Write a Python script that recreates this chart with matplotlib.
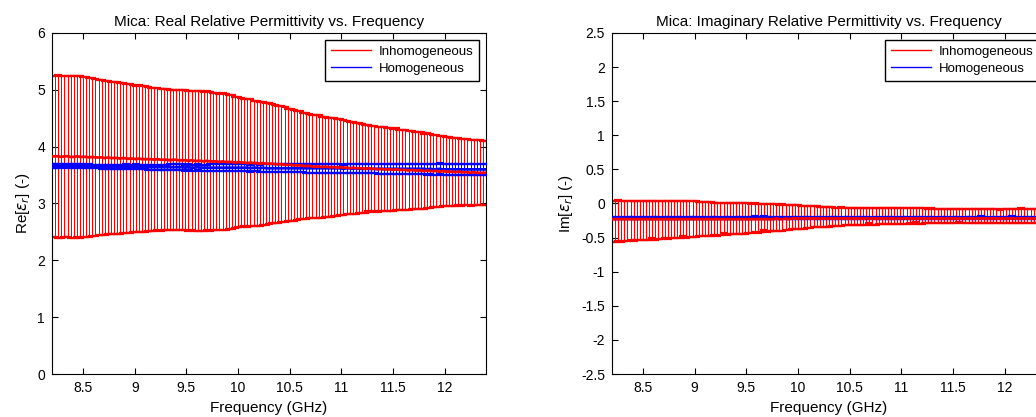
import numpy as np
import matplotlib
matplotlib.use("Agg")
import matplotlib.pyplot as plt
from matplotlib.lines import Line2D
from matplotlib.ticker import FuncFormatter

plt.rcParams['font.family'] = ['Liberation Sans', 'DejaVu Sans']
plt.rcParams['axes.unicode_minus'] = False

# frequency sweep, 8.2 - 12.4 GHz (141 points)
freq = np.round(np.arange(141) * 0.03 + 8.2, 3)

# --- real part ---
re_inhom_mean = [
    3.83, 3.83, 3.83, 3.82, 3.83, 3.83, 3.82, 3.82, 3.83, 3.82,
    3.82, 3.82, 3.81, 3.82, 3.81, 3.81, 3.81, 3.80, 3.81, 3.80,
    3.80, 3.80, 3.79, 3.80, 3.79, 3.79, 3.79, 3.78, 3.79, 3.78,
    3.78, 3.78, 3.78, 3.77, 3.78, 3.77, 3.77, 3.77, 3.76, 3.77,
    3.77, 3.76, 3.76, 3.76, 3.75, 3.76, 3.75, 3.75, 3.75, 3.74,
    3.75, 3.74, 3.74, 3.74, 3.73, 3.74, 3.73, 3.73, 3.73, 3.72,
    3.73, 3.72, 3.72, 3.71, 3.72, 3.71, 3.71, 3.70, 3.71, 3.70,
    3.70, 3.70, 3.69, 3.69, 3.69, 3.68, 3.68, 3.68, 3.67, 3.67,
    3.67, 3.66, 3.66, 3.66, 3.65, 3.65, 3.65, 3.64, 3.65, 3.64,
    3.64, 3.64, 3.63, 3.64, 3.63, 3.63, 3.62, 3.63, 3.62, 3.62,
    3.62, 3.61, 3.62, 3.61, 3.61, 3.60, 3.61, 3.60, 3.60, 3.60,
    3.59, 3.60, 3.59, 3.59, 3.59, 3.58, 3.59, 3.58, 3.58, 3.58,
    3.57, 3.58, 3.57, 3.57, 3.57, 3.56, 3.57, 3.56, 3.56, 3.56,
    3.55, 3.56, 3.55, 3.55, 3.55, 3.54, 3.55, 3.54, 3.54, 3.54,
    3.54]
re_inhom_err = [
    1.42, 1.42, 1.43, 1.42, 1.42, 1.42, 1.43, 1.42, 1.42, 1.42,
    1.41, 1.41, 1.40, 1.39, 1.38, 1.37, 1.36, 1.36, 1.35, 1.34,
    1.34, 1.33, 1.33, 1.32, 1.31, 1.31, 1.30, 1.29, 1.29, 1.28,
    1.28, 1.27, 1.26, 1.26, 1.25, 1.25, 1.24, 1.24, 1.23, 1.23,
    1.23, 1.23, 1.23, 1.23, 1.23, 1.22, 1.23, 1.23, 1.23, 1.22,
    1.22, 1.22, 1.21, 1.21, 1.20, 1.20, 1.19, 1.18, 1.17, 1.15,
    1.14, 1.13, 1.12, 1.12, 1.11, 1.10, 1.10, 1.09, 1.08, 1.07,
    1.06, 1.05, 1.04, 1.03, 1.02, 1.01, 0.99, 0.98, 0.97, 0.96,
    0.95, 0.94, 0.93, 0.92, 0.91, 0.90, 0.90, 0.89, 0.88, 0.87,
    0.87, 0.86, 0.85, 0.84, 0.83, 0.82, 0.81, 0.81, 0.80, 0.79,
    0.78, 0.77, 0.76, 0.76, 0.75, 0.75, 0.74, 0.74, 0.73, 0.73,
    0.72, 0.72, 0.71, 0.70, 0.70, 0.69, 0.69, 0.68, 0.67, 0.67,
    0.66, 0.66, 0.65, 0.64, 0.64, 0.63, 0.62, 0.61, 0.61, 0.60,
    0.60, 0.59, 0.59, 0.58, 0.58, 0.58, 0.57, 0.57, 0.57, 0.56,
    0.56]
re_hom_mean = [
    3.66, 3.66, 3.66, 3.66, 3.67, 3.66, 3.66, 3.66, 3.66, 3.66,
    3.66, 3.65, 3.66, 3.65, 3.65, 3.65, 3.65, 3.65, 3.65, 3.65,
    3.65, 3.65, 3.65, 3.64, 3.65, 3.64, 3.64, 3.65, 3.64, 3.64,
    3.64, 3.64, 3.64, 3.64, 3.64, 3.64, 3.64, 3.64, 3.64, 3.64,
    3.64, 3.64, 3.64, 3.63, 3.64, 3.63, 3.63, 3.64, 3.63, 3.63,
    3.63, 3.63, 3.63, 3.63, 3.63, 3.63, 3.63, 3.63, 3.63, 3.63,
    3.63, 3.63, 3.63, 3.63, 3.62, 3.63, 3.63, 3.62, 3.63, 3.62,
    3.62, 3.62, 3.62, 3.62, 3.62, 3.62, 3.62, 3.62, 3.62, 3.62,
    3.62, 3.62, 3.62, 3.62, 3.62, 3.62, 3.62, 3.62, 3.62, 3.62,
    3.62, 3.62, 3.62, 3.62, 3.61, 3.62, 3.62, 3.61, 3.62, 3.61,
    3.61, 3.61, 3.61, 3.61, 3.61, 3.61, 3.61, 3.61, 3.61, 3.61,
    3.61, 3.61, 3.61, 3.61, 3.61, 3.61, 3.61, 3.61, 3.61, 3.61,
    3.61, 3.60, 3.61, 3.60, 3.60, 3.61, 3.60, 3.60, 3.60, 3.60,
    3.60, 3.60, 3.60, 3.60, 3.60, 3.60, 3.60, 3.60, 3.60, 3.60,
    3.60]
re_hom_err = [
    0.03, 0.03, 0.03, 0.03, 0.03, 0.03, 0.03, 0.03, 0.03, 0.03,
    0.03, 0.03, 0.03, 0.03, 0.03, 0.03, 0.035, 0.035, 0.035, 0.035,
    0.035, 0.035, 0.035, 0.04, 0.04, 0.04, 0.04, 0.04, 0.04, 0.04,
    0.04, 0.045, 0.045, 0.045, 0.045, 0.045, 0.045, 0.045, 0.05, 0.05,
    0.05, 0.05, 0.05, 0.05, 0.05, 0.055, 0.055, 0.055, 0.055, 0.055,
    0.055, 0.06, 0.06, 0.06, 0.06, 0.06, 0.06, 0.06, 0.065, 0.065,
    0.065, 0.065, 0.065, 0.065, 0.065, 0.065, 0.065, 0.065, 0.07, 0.07,
    0.07, 0.07, 0.07, 0.07, 0.07, 0.07, 0.07, 0.07, 0.07, 0.07,
    0.07, 0.07, 0.075, 0.075, 0.075, 0.075, 0.075, 0.075, 0.075, 0.075,
    0.075, 0.075, 0.075, 0.075, 0.075, 0.08, 0.08, 0.08, 0.08, 0.08,
    0.08, 0.08, 0.08, 0.08, 0.08, 0.085, 0.085, 0.085, 0.085, 0.085,
    0.085, 0.085, 0.085, 0.09, 0.09, 0.09, 0.09, 0.09, 0.09, 0.09,
    0.09, 0.09, 0.09, 0.09, 0.09, 0.095, 0.095, 0.095, 0.095, 0.095,
    0.095, 0.095, 0.095, 0.095, 0.095, 0.095, 0.095, 0.095, 0.095, 0.095,
    0.095]

# --- imaginary part ---
im_inhom_mean = [
    -0.23, -0.23, -0.23, -0.23, -0.23, -0.23, -0.23, -0.23, -0.23, -0.23,
    -0.23, -0.23, -0.23, -0.23, -0.23, -0.23, -0.23, -0.23, -0.23, -0.23,
    -0.23, -0.23, -0.23, -0.23, -0.23, -0.23, -0.23, -0.23, -0.23, -0.23,
    -0.23, -0.23, -0.23, -0.23, -0.23, -0.23, -0.23, -0.23, -0.23, -0.23,
    -0.23, -0.23, -0.23, -0.23, -0.23, -0.23, -0.23, -0.23, -0.23, -0.23,
    -0.23, -0.23, -0.23, -0.22, -0.23, -0.23, -0.22, -0.23, -0.22, -0.22,
    -0.22, -0.22, -0.22, -0.22, -0.22, -0.22, -0.22, -0.22, -0.22, -0.22,
    -0.22, -0.22, -0.22, -0.22, -0.22, -0.22, -0.22, -0.22, -0.22, -0.22,
    -0.22, -0.22, -0.22, -0.22, -0.22, -0.22, -0.22, -0.22, -0.22, -0.22,
    -0.22, -0.22, -0.22, -0.22, -0.22, -0.22, -0.22, -0.22, -0.22, -0.22,
    -0.22, -0.22, -0.22, -0.22, -0.22, -0.22, -0.22, -0.22, -0.22, -0.22,
    -0.22, -0.22, -0.22, -0.22, -0.22, -0.22, -0.22, -0.22, -0.22, -0.22,
    -0.22, -0.22, -0.22, -0.22, -0.22, -0.22, -0.22, -0.22, -0.22, -0.22,
    -0.22, -0.22, -0.22, -0.22, -0.22, -0.22, -0.22, -0.22, -0.22, -0.22,
    -0.22]
im_inhom_upper = [
    0.04, 0.04, 0.05, 0.04, 0.04, 0.04, 0.04, 0.04, 0.04, 0.04,
    0.04, 0.04, 0.04, 0.04, 0.03, 0.04, 0.04, 0.03, 0.03, 0.03,
    0.03, 0.03, 0.03, 0.03, 0.03, 0.03, 0.03, 0.03, 0.02, 0.02,
    0.02, 0.02, 0.02, 0.01, 0.01, 0.01, 0.01, 0.01, 0.01, 0.01,
    0.00, 0.00, 0.00, 0.00, 0.00, -0.01, 0.00, -0.01, -0.01, -0.01,
    -0.01, -0.01, -0.01, -0.01, -0.02, -0.01, -0.02, -0.02, -0.02, -0.02,
    -0.02, -0.03, -0.03, -0.03, -0.04, -0.04, -0.04, -0.05, -0.05, -0.05,
    -0.05, -0.05, -0.06, -0.06, -0.05, -0.06, -0.06, -0.06, -0.06, -0.06,
    -0.06, -0.07, -0.06, -0.07, -0.07, -0.07, -0.07, -0.07, -0.07, -0.07,
    -0.07, -0.07, -0.07, -0.07, -0.07, -0.07, -0.07, -0.07, -0.07, -0.07,
    -0.07, -0.07, -0.08, -0.07, -0.08, -0.08, -0.08, -0.08, -0.08, -0.08,
    -0.08, -0.08, -0.08, -0.08, -0.08, -0.08, -0.08, -0.08, -0.08, -0.08,
    -0.08, -0.08, -0.08, -0.08, -0.08, -0.09, -0.08, -0.08, -0.08, -0.08,
    -0.08, -0.08, -0.07, -0.08, -0.08, -0.08, -0.08, -0.08, -0.08, -0.08,
    -0.08]
im_inhom_lower = [
    -0.56, -0.56, -0.55, -0.56, -0.55, -0.55, -0.54, -0.55, -0.54, -0.54,
    -0.54, -0.53, -0.54, -0.50, -0.53, -0.52, -0.52, -0.50, -0.52, -0.51,
    -0.51, -0.50, -0.51, -0.47, -0.50, -0.49, -0.49, -0.49, -0.48, -0.48,
    -0.48, -0.47, -0.47, -0.46, -0.47, -0.46, -0.43, -0.46, -0.45, -0.45,
    -0.45, -0.44, -0.44, -0.44, -0.43, -0.43, -0.42, -0.43, -0.42, -0.39,
    -0.42, -0.41, -0.41, -0.40, -0.40, -0.40, -0.39, -0.39, -0.38, -0.38,
    -0.37, -0.37, -0.37, -0.36, -0.36, -0.35, -0.35, -0.35, -0.34, -0.34,
    -0.34, -0.33, -0.33, -0.33, -0.33, -0.32, -0.32, -0.32, -0.32, -0.31,
    -0.31, -0.31, -0.31, -0.29, -0.31, -0.31, -0.30, -0.30, -0.30, -0.30,
    -0.30, -0.30, -0.30, -0.30, -0.30, -0.30, -0.29, -0.30, -0.27, -0.30,
    -0.30, -0.29, -0.29, -0.29, -0.29, -0.29, -0.29, -0.29, -0.29, -0.29,
    -0.29, -0.29, -0.27, -0.29, -0.29, -0.29, -0.29, -0.29, -0.29, -0.29,
    -0.29, -0.29, -0.29, -0.29, -0.29, -0.29, -0.28, -0.29, -0.28, -0.28,
    -0.28, -0.28, -0.28, -0.28, -0.28, -0.28, -0.28, -0.28, -0.28, -0.28,
    -0.28]
im_hom_mean = [
    -0.21, -0.22, -0.21, -0.21, -0.22, -0.21, -0.21, -0.21, -0.22, -0.21,
    -0.21, -0.21, -0.22, -0.21, -0.21, -0.21, -0.22, -0.21, -0.21, -0.21,
    -0.22, -0.21, -0.21, -0.21, -0.22, -0.21, -0.21, -0.21, -0.22, -0.21,
    -0.21, -0.22, -0.21, -0.21, -0.21, -0.22, -0.21, -0.21, -0.21, -0.22,
    -0.21, -0.21, -0.21, -0.22, -0.21, -0.21, -0.20, -0.21, -0.21, -0.20,
    -0.21, -0.21, -0.21, -0.22, -0.21, -0.21, -0.21, -0.22, -0.21, -0.21,
    -0.21, -0.22, -0.21, -0.21, -0.21, -0.22, -0.21, -0.21, -0.21, -0.22,
    -0.21, -0.21, -0.21, -0.21, -0.22, -0.21, -0.21, -0.21, -0.22, -0.21,
    -0.21, -0.21, -0.21, -0.22, -0.21, -0.21, -0.21, -0.22, -0.21, -0.21,
    -0.21, -0.21, -0.22, -0.21, -0.21, -0.21, -0.22, -0.21, -0.21, -0.21,
    -0.21, -0.22, -0.21, -0.21, -0.21, -0.22, -0.21, -0.21, -0.21, -0.22,
    -0.21, -0.21, -0.21, -0.22, -0.21, -0.21, -0.21, -0.22, -0.21, -0.20,
    -0.21, -0.21, -0.22, -0.21, -0.21, -0.21, -0.22, -0.21, -0.21, -0.20,
    -0.21, -0.21, -0.22, -0.21, -0.21, -0.21, -0.22, -0.21, -0.21, -0.21,
    -0.21]
im_hom_err = [
    0.01, 0.01, 0.01, 0.01, 0.01, 0.01, 0.01, 0.01, 0.01, 0.01,
    0.01, 0.01, 0.01, 0.01, 0.01, 0.01, 0.01, 0.01, 0.01, 0.01,
    0.01, 0.01, 0.01, 0.01, 0.01, 0.01, 0.01, 0.01, 0.01, 0.01,
    0.01, 0.01, 0.01, 0.01, 0.01, 0.01, 0.01, 0.01, 0.01, 0.01,
    0.01, 0.01, 0.01, 0.01, 0.01, 0.01, 0.01, 0.01, 0.01, 0.01,
    0.01, 0.01, 0.01, 0.01, 0.01, 0.01, 0.01, 0.01, 0.01, 0.01,
    0.01, 0.01, 0.01, 0.01, 0.01, 0.01, 0.01, 0.01, 0.01, 0.01,
    0.01, 0.01, 0.01, 0.01, 0.01, 0.01, 0.01, 0.01, 0.01, 0.01,
    0.01, 0.01, 0.01, 0.01, 0.01, 0.01, 0.01, 0.01, 0.01, 0.01,
    0.01, 0.01, 0.01, 0.01, 0.01, 0.01, 0.01, 0.01, 0.01, 0.01,
    0.01, 0.01, 0.01, 0.01, 0.01, 0.01, 0.01, 0.01, 0.01, 0.01,
    0.01, 0.01, 0.01, 0.01, 0.01, 0.01, 0.01, 0.01, 0.01, 0.01,
    0.01, 0.01, 0.01, 0.01, 0.01, 0.01, 0.01, 0.01, 0.01, 0.01,
    0.01, 0.01, 0.01, 0.01, 0.01, 0.01, 0.01, 0.01, 0.01, 0.01,
    0.01]

legend_labels = ['Inhomogeneous', 'Homogeneous']


def style_axes(ax, ylim, yticks):
    ax.set_xlim(8.2, 12.4)
    ax.set_ylim(*ylim)
    ax.set_xticks([8.5, 9, 9.5, 10, 10.5, 11, 11.5, 12])
    ax.set_yticks(yticks)
    fmt = FuncFormatter(lambda v, p: '%g' % v)
    ax.xaxis.set_major_formatter(fmt)
    ax.yaxis.set_major_formatter(fmt)
    ax.tick_params(direction='in', top=True, right=True, length=4,
                   width=0.8, labelsize=10, pad=5)
    for s in ax.spines.values():
        s.set_linewidth(0.8)
    ax.set_xlabel('Frequency (GHz)', fontsize=11, labelpad=4)
    handles = [Line2D([], [], color='r', lw=1), Line2D([], [], color='b', lw=1)]
    leg = ax.legend(handles, legend_labels, loc='upper right', fontsize=9.5,
                    fancybox=False, framealpha=1, edgecolor='black',
                    handlelength=3.0, borderaxespad=0.5, labelspacing=0.35,
                    handletextpad=0.6, borderpad=0.45)
    leg.get_frame().set_linewidth(1.0)


def draw_errorbars(ax, x, mean, yerr, color, lw_bar, aa, z):
    eb = ax.errorbar(x, mean, yerr=yerr, color=color, lw=2, capsize=3.1,
                     capthick=1.6, elinewidth=lw_bar, zorder=z)
    eb[2][0].set_antialiased(aa)
    return eb


fig = plt.figure(figsize=(10.36, 4.17), dpi=100)
ax1 = fig.add_axes([0.0502, 0.103, 0.419, 0.818])
ax2 = fig.add_axes([0.5907, 0.103, 0.419, 0.818])

# real part
red = draw_errorbars(ax1, freq, re_inhom_mean, re_inhom_err, 'r', 0.72, False, 2)
draw_errorbars(ax1, freq, re_hom_mean, re_hom_err, 'b', 0.72, False, 3)
red[0].set_zorder(4)
style_axes(ax1, (0, 6), [0, 1, 2, 3, 4, 5, 6])
ax1.set_title('Mica: Real Relative Permittivity vs. Frequency', fontsize=11, pad=5)
ax1.set_ylabel(r'Re[$\varepsilon_r$] (-)', fontsize=11, labelpad=4)

# imaginary part
im_mean = np.array(im_inhom_mean)
im_err = [im_mean - np.array(im_inhom_lower), np.array(im_inhom_upper) - im_mean]
red2 = draw_errorbars(ax2, freq, im_mean, im_err, 'r', 0.8, True, 2)
draw_errorbars(ax2, freq, im_hom_mean, im_hom_err, 'b', 0.72, False, 3)
red2[0].set_zorder(4)
style_axes(ax2, (-2.5, 2.5), [-2.5, -2, -1.5, -1, -0.5, 0, 0.5, 1, 1.5, 2, 2.5])
ax2.set_title('Mica: Imaginary Relative Permittivity vs. Frequency', fontsize=11, pad=5)
ax2.set_ylabel(r'Im[$\varepsilon_r$] (-)', fontsize=11, labelpad=4)

fig.savefig('out.png', dpi=100)
